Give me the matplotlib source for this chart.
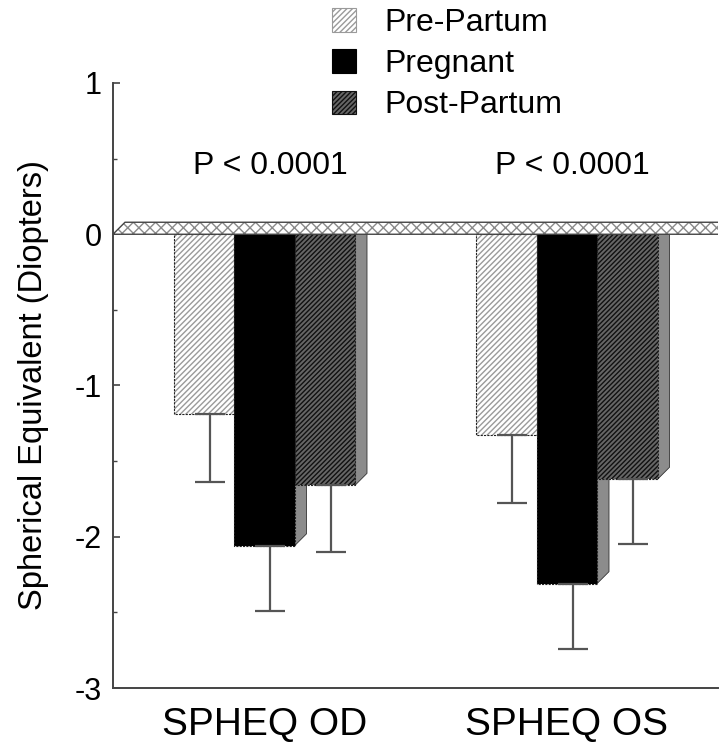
import matplotlib
matplotlib.use("Agg")
import matplotlib.pyplot as plt
from matplotlib.patches import Rectangle, Polygon, Patch
import numpy as np

plt.rcParams['font.family'] = ['Liberation Sans', 'DejaVu Sans']
plt.rcParams['axes.unicode_minus'] = False
plt.rcParams['hatch.linewidth'] = 1.0

# ---- data ----
groups = ["SPHEQ OD", "SPHEQ OS"]
series = ["Pre-Partum", "Pregnant", "Post-Partum"]
pre_partum = [-1.19, -1.33]
pregnant = [-2.06, -2.31]
post_partum = [-1.66, -1.62]
err_pre = [0.45, 0.45]
err_preg = [0.43, 0.43]
err_post = [0.44, 0.43]
p_labels = ["P < 0.0001", "P < 0.0001"]
yticks = [-3, -2, -1, 0, 1]

values = [pre_partum, pregnant, post_partum]
errors = [err_pre, err_preg, err_post]

# styles: (facecolor, hatchcolor, hatch)
styles = [("white", "#9a9a9a", "//////"),
          ("black", "black", None),
          ("#666666", "#111111", "///////")]
side_color = "#8c8c8c"

W, H = 721, 742
fig = plt.figure(figsize=(W / 100, H / 100), dpi=100)
ax = fig.add_axes([113 / W, 1 - 688 / H, 605 / W, 605 / H])
ax.set_xlim(-0.5, 1.5)
ax.set_ylim(-3, 1)

# depth of the pseudo-3D effect (12 px right, 12 px up) in data units
inv = ax.transData.inverted()
p0 = ax.transData.transform((0, 0))
p1 = inv.transform((p0[0] + 12, p0[1] + 12))
ddx, ddy = p1[0], p1[1]

bw = 0.2
offsets = [-bw, 0.0, bw]
x = np.arange(len(groups))

# side faces first
for s in range(3):
    for g in range(len(groups)):
        v = values[s][g]
        R = x[g] + offsets[s] + bw / 2
        poly = Polygon([(R, 0), (R, v), (R + ddx, v + ddy), (R + ddx, ddy)],
                       closed=True, facecolor=side_color, edgecolor="#333333",
                       linewidth=0.6, zorder=2)
        ax.add_patch(poly)

# front faces
for s in range(3):
    fc, hc, hatch = styles[s]
    for g in range(len(groups)):
        v = values[s][g]
        L = x[g] + offsets[s] - bw / 2
        ax.add_patch(Rectangle((L, 0), bw, v, facecolor=fc, edgecolor=hc,
                               hatch=hatch, linewidth=0, zorder=3))
        ax.add_patch(Rectangle((L, 0), bw, v, fill=False, edgecolor="#222222",
                               linewidth=0.8, linestyle=(0, (2, 1)), zorder=3.1))

# floor plane at 0
plane_pts = [(-0.5, 0), (1.5 + ddx, 0), (1.5 + ddx, ddy), (-0.5 + ddx, ddy)]
ax.add_patch(Polygon(plane_pts, closed=True, facecolor="white", edgecolor="#8a8a8a",
                     hatch="xxx", linewidth=0, zorder=4))
ax.add_patch(Polygon(plane_pts, closed=True, fill=False, edgecolor="#444444",
                     linewidth=1.0, zorder=4.1))

# error bars (downward only)
for s in range(3):
    xs = x + offsets[s] + ddx / 2
    ax.errorbar(xs, values[s], yerr=[errors[s], [0] * len(groups)], fmt="none",
                ecolor="#555555", elinewidth=1.6, capsize=10.8, capthick=1.6, zorder=5)

# P value annotations
for g in range(len(groups)):
    ax.text(x[g] + ddx / 2, 0.40, p_labels[g], ha="center", va="baseline",
            fontsize=23, color="black")

# axes styling
for sp in ["top", "right"]:
    ax.spines[sp].set_visible(False)
for sp in ["left", "bottom"]:
    ax.spines[sp].set_color("#444444")
    ax.spines[sp].set_linewidth(1.4)

ax.set_yticks(yticks)
ax.set_yticklabels([str(t) for t in yticks])
ax.set_yticks(np.arange(-2.5, 1, 1.0), minor=True)
ax.tick_params(axis="y", which="major", direction="in", length=5, width=1.2,
               colors="#444444", labelcolor="black", labelsize=22, pad=8)
ax.tick_params(axis="y", which="minor", direction="in", length=3, width=1.0, colors="#444444")
ax.set_xticks(x)
ax.set_xticklabels(groups)
ax.tick_params(axis="x", length=0, labelsize=28, pad=14)

ax.set_ylabel("Spherical Equivalent (Diopters)", fontsize=23.5)
ax.yaxis.set_label_coords(-0.105, 0.5)

# legend
handles = []
for s in range(3):
    fc, hc, hatch = styles[s]
    handles.append(Patch(facecolor=fc, edgecolor=hc, hatch=hatch, linewidth=0.8))
fig.legend(handles, series, loc="upper left", bbox_to_anchor=(332 / W, 1 - 8 / H),
           frameon=False, borderpad=0, borderaxespad=0, handlelength=0.75,
           handleheight=0.75, handletextpad=0.9, labelspacing=0.35, fontsize=23)

fig.savefig("out.png", dpi=100)
